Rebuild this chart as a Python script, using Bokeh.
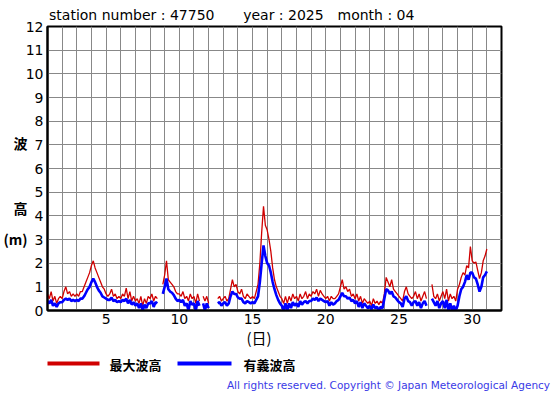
import numpy as np
from bokeh.plotting import figure
from bokeh.layouts import column
from bokeh.models import FixedTicker, LinearAxis, Label, Range1d
from bokeh.embed import file_html
from bokeh.resources import INLINE

nan = float("nan")

# 3-hourly readings, day 1 00h .. day 31 00h (April 2025, station 47750)
steps_per_day = 8
max_wave = [
    0.7, 0.5, 0.8, 0.4, 0.6, 0.3, 0.5, 0.6,      # 1
    0.5, 0.8, 1.0, 0.7, 0.8, 0.6, 0.7, 0.6,      # 2
    0.7, 0.6, 0.8, 0.8, 1.0, 1.2, 1.4, 1.6,      # 3
    1.9, 2.1, 1.8, 1.6, 1.4, 1.2, 1.0, 0.9,      # 4
    0.7, 0.6, 0.7, 0.9, 0.6, 0.7, 0.5, 0.6,      # 5
    0.5, 0.7, 0.6, 0.95, 0.5, 0.8, 0.4, 0.6,     # 6
    0.4, 0.5, 0.3, 0.6, 0.2, 0.5, 0.3, 0.6,      # 7
    0.5, 0.7, 0.4, 0.6, 0.5, nan, nan, 1.1,      # 8
    1.5, 2.1, 1.3, 1.2, 1.1, 1.0, 0.8, 0.7,      # 9
    0.7, 0.6, 0.8, 0.5, 0.6, 0.4, 0.7, 0.5,      # 10
    0.6, 0.3, 0.7, 0.4, nan, 0.6, 0.4, 0.6,      # 11
    0.3, nan, nan, nan, nan, 0.5, 0.6, 0.4,      # 12
    0.5, 0.6, 0.4, 0.5, 0.9, 1.3, 1.0, 1.1,      # 13
    0.8, 0.7, 0.9, 0.6, 0.5, 0.7, 0.6, 0.5,      # 14
    0.6, 0.5, 0.8, 1.1, 2.0, 3.3, 4.4, 3.6,      # 15
    3.4, 3.0, 2.5, 1.8, 1.3, 1.0, 0.8, 0.6,      # 16
    0.5, 0.3, 0.6, 0.3, 0.6, 0.4, 0.7, 0.5,      # 17
    0.6, 0.4, 0.7, 0.5, 0.6, 0.8, 0.5, 0.7,      # 18
    0.6, 0.8, 0.7, 0.9, 0.6, 0.85, 0.7, 0.6,     # 19
    0.5, 0.6, 0.4, 0.6, 0.5, 0.5, 0.6, 0.7,      # 20
    1.0, 1.3, 0.9, 1.0, 0.8, 0.9, 0.6, 0.7,      # 21
    0.5, 0.7, 0.4, 0.6, 0.3, 0.5, 0.4, 0.3,      # 22
    0.4, 0.2, 0.5, 0.3, 0.4, 0.25, 0.4, 0.3,     # 23
    0.7, 1.4, 1.2, 1.0, 1.3, 0.9, 0.8, 0.7,      # 24
    0.6, 0.5, 0.4, 0.8, 1.0, 0.7, 0.6, 0.5,      # 25
    0.6, 0.8, 0.5, 0.7, 0.4, 0.6, 0.8, 0.5,      # 26
    nan, nan, 1.1, 0.6, 0.5, 0.7, 0.4, 0.6,      # 27
    0.8, 0.5, 0.9, 0.4, 0.7, 0.5, 0.6, 0.4,      # 28
    0.9, 1.1, 1.4, 1.6, 1.5, 1.9, 1.8, 2.7,      # 29
    2.1, 2.0, 2.05, 1.7, 1.35, 1.6, 2.1, 2.3,    # 30
    2.6,
]
sig_wave = [
    0.4, 0.3, 0.45, 0.2, 0.3, 0.15, 0.3, 0.35,   # 1
    0.35, 0.45, 0.5, 0.45, 0.5, 0.4, 0.45, 0.4,  # 2
    0.45, 0.4, 0.5, 0.5, 0.6, 0.75, 0.9, 1.0,    # 3
    1.2, 1.35, 1.2, 1.0, 0.85, 0.75, 0.6, 0.55,  # 4
    0.5, 0.45, 0.45, 0.55, 0.4, 0.45, 0.35, 0.4, # 5
    0.35, 0.45, 0.4, 0.5, 0.3, 0.45, 0.25, 0.35, # 6
    0.2, 0.3, 0.1, 0.3, 0.0, 0.25, 0.1, 0.3,     # 7
    0.3, 0.4, 0.15, 0.35, 0.3, nan, nan, 0.7,    # 8
    1.0, 1.35, 0.9, 0.8, 0.75, 0.65, 0.5, 0.4,   # 9
    0.45, 0.35, 0.45, 0.2, 0.3, 0.0, 0.4, 0.25,  # 10
    0.3, 0.0, 0.4, 0.2, nan, 0.3, 0.0, 0.3,      # 11
    0.1, nan, nan, nan, nan, 0.3, 0.35, 0.2,     # 12
    0.3, 0.35, 0.2, 0.3, 0.6, 0.8, 0.7, 0.7,     # 13
    0.55, 0.5, 0.5, 0.35, 0.3, 0.4, 0.35, 0.3,   # 14
    0.35, 0.3, 0.45, 0.6, 1.2, 2.0, 2.75, 2.3,   # 15
    2.0, 1.9, 1.6, 1.2, 0.9, 0.65, 0.45, 0.3,    # 16
    0.2, 0.0, 0.3, 0.0, 0.3, 0.1, 0.35, 0.2,     # 17
    0.3, 0.15, 0.4, 0.25, 0.35, 0.4, 0.3, 0.4,   # 18
    0.4, 0.5, 0.45, 0.55, 0.4, 0.5, 0.45, 0.4,   # 19
    0.35, 0.4, 0.2, 0.35, 0.25, 0.3, 0.4, 0.45,  # 20
    0.6, 0.75, 0.6, 0.6, 0.5, 0.55, 0.4, 0.45,   # 21
    0.3, 0.4, 0.15, 0.35, 0.1, 0.3, 0.2, 0.1,    # 22
    0.2, 0.05, 0.25, 0.1, 0.15, 0.0, 0.15, 0.1,  # 23
    0.5, 0.9, 0.85, 0.7, 0.8, 0.6, 0.55, 0.45,   # 24
    0.35, 0.3, 0.15, 0.5, 0.6, 0.4, 0.35, 0.2,   # 25
    0.35, 0.4, 0.2, 0.35, 0.1, 0.3, 0.4, 0.2,    # 26
    nan, nan, 0.5, 0.35, 0.2, 0.4, 0.1, 0.3,     # 27
    0.4, 0.1, 0.45, 0.0, 0.3, 0.0, 0.2, 0.0,     # 28
    0.2, 0.6, 0.9, 1.0, 1.2, 1.5, 1.3, 1.6,      # 29
    1.6, 1.4, 1.35, 1.1, 0.8, 1.0, 1.4, 1.5,     # 30
    1.65,
]
times = [1 + i / steps_per_day for i in range(len(max_wave))]

x_ticks = [5, 10, 15, 20, 25, 30]
y_ticks = list(range(0, 13))
grid_days = list(range(1, 33))

title_parts = ["station number : 47750", "year : 2025", "month : 04"]
y_title_parts = ["波", "高", "(m)"]
x_title = "(日)"
label_max = "最大波高"
label_sig = "有義波高"
copyright_text = "All rights reserved. Copyright © Japan Meteorological Agency"

RED = "#d00000"
BLUE = "#0000ff"

# ---------------- main chart ----------------
p = figure(width=555, height=350, x_range=(1, 32), y_range=(0, 12),
           output_backend="svg", toolbar_location=None,
           min_border_left=47, min_border_right=54, min_border_top=26,
           min_border_bottom=40)
p.background_fill_color = "white"
p.border_fill_color = "white"
p.outline_line_color = "black"
p.outline_line_width = 2

p.xgrid.ticker = FixedTicker(ticks=grid_days)
p.ygrid.ticker = FixedTicker(ticks=y_ticks)
for g in (p.xgrid, p.ygrid):
    g.grid_line_color = "#888888"
    g.grid_line_width = 1


def style_axis(ax, font="DejaVu Sans", size="14px", style="normal",
               color="black", line=True, standoff=3):
    ax.axis_line_color = "black" if line else None
    ax.axis_line_width = 2
    ax.major_tick_in = 0
    ax.major_tick_out = 0
    ax.minor_tick_in = 0
    ax.minor_tick_out = 0
    ax.major_label_text_font = font
    ax.major_label_text_font_size = size
    ax.major_label_text_font_style = style
    ax.major_label_text_color = color
    ax.major_label_standoff = standoff


p.xaxis.ticker = FixedTicker(ticks=x_ticks)
p.yaxis.ticker = FixedTicker(ticks=y_ticks)
style_axis(p.xaxis[0], standoff=3)
style_axis(p.yaxis[0], standoff=4)

p.line(times, max_wave, line_color=RED, line_width=1.3)
p.line(times, sig_wave, line_color=BLUE, line_width=2.6)

# title row
title_pos = [6.755, 17.11, 23.43]
top_ax = LinearAxis(ticker=FixedTicker(ticks=title_pos),
                    major_label_overrides={t: s for t, s in zip(title_pos, title_parts)})
style_axis(top_ax, line=False, standoff=4)
p.add_layout(top_ax, "above")

# vertical y title: 波 / 高 / (m)
ytitle_pos = [7.08, 4.35, 3.04]
left2 = LinearAxis(ticker=FixedTicker(ticks=ytitle_pos),
                   major_label_overrides={t: s for t, s in zip(ytitle_pos, y_title_parts)})
style_axis(left2, font="Noto Sans CJK JP", size="14px", style="bold",
           line=False, standoff=-5)
p.add_layout(left2, "left")

# x title (日)
xt_pos = [15.44]
below2 = LinearAxis(ticker=FixedTicker(ticks=xt_pos),
                    major_label_overrides={xt_pos[0]: x_title})
style_axis(below2, font="Noto Sans CJK JP", size="15px", line=False, standoff=0)
p.add_layout(below2, "below")

# ---------------- legend / copyright strip ----------------
# frame of this strip lines up with the chart frame (page x 47..501)
q = figure(width=555, height=45, x_range=Range1d(47, 501), y_range=Range1d(28, 0),
           output_backend="svg", toolbar_location=None,
           x_axis_location=None, y_axis_location=None,
           min_border_left=47, min_border_right=54,
           min_border_top=0, min_border_bottom=17)
q.grid.visible = False
q.outline_line_color = None
q.background_fill_color = "white"
q.border_fill_color = "white"

sw_y = 13
q.line([45, 99], [sw_y, sw_y], line_color=RED, line_width=4)
q.line([177, 231], [sw_y, sw_y], line_color=BLUE, line_width=4)
for x0, txt in ((109, label_max), (243, label_sig)):
    q.add_layout(Label(x=x0, y=sw_y + 1, text=txt, text_font="Noto Sans CJK JP",
                       text_font_style="bold", text_font_size="13px",
                       text_align="left", text_baseline="middle",
                       text_color="black"))

cp_pos = [388]
cp_ax = LinearAxis(ticker=FixedTicker(ticks=cp_pos),
                   major_label_overrides={cp_pos[0]: copyright_text})
style_axis(cp_ax, font="DejaVu Sans", size="10.5px", color="#3a3ae6",
           line=False, standoff=0)
q.add_layout(cp_ax, "below")

layout = column(p, q, spacing=0)
html = file_html(layout, INLINE)
open("out.html", "w").write(html)
